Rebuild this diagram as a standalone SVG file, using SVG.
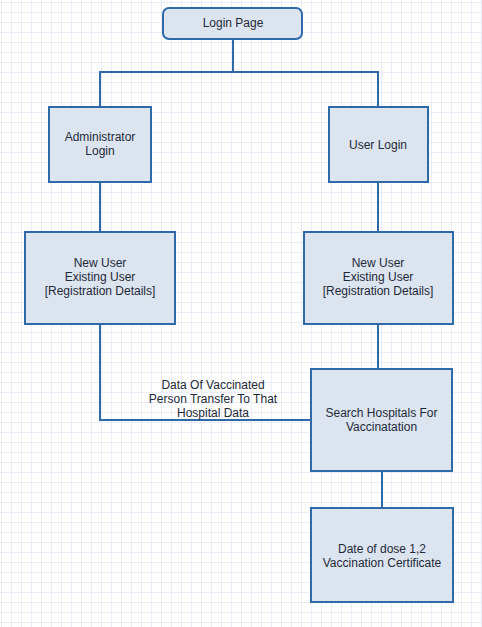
<svg xmlns="http://www.w3.org/2000/svg" width="482" height="627" viewBox="0 0 482 627">
<defs>
<pattern id="grid" width="10" height="10" patternUnits="userSpaceOnUse" x="1" y="2">
<path d="M0 0.5H10M0.5 0V10" fill="none" stroke="#ebebfa" stroke-width="1"/>
</pattern>
<style>
.box{fill:#dce4ef;stroke:#2e6aa8;stroke-width:2}
.conn{fill:none;stroke:#2e6aa8;stroke-width:2}
text{font-family:"Liberation Sans",Arial,sans-serif;font-size:12px;fill:#1e2a38;text-anchor:middle}
</style>
</defs>
<rect width="482" height="627" fill="#ffffff"/>
<rect width="482" height="627" fill="url(#grid)"/>
<g id="connectors">
<path class="conn" d="M233 39V72M100 107V72H378V107"/>
<path class="conn" d="M100 182V232"/>
<path class="conn" d="M378 182V232"/>
<path class="conn" d="M378 324V369"/>
<path class="conn" d="M100 324V420H311"/>
<path class="conn" d="M382 471V508"/>
<g id="edge-label">
<text x="213" y="388.5">Data Of Vaccinated</text>
<text x="213" y="402.5">Person Transfer To That</text>
<text x="213" y="417">Hospital Data</text>
</g>
</g>
<g id="login-page">
<rect class="box" x="163" y="8" width="139" height="31" rx="6"/>
<text x="233" y="27">Login Page</text>
</g>
<g id="admin-login">
<rect class="box" x="49" y="107" width="102" height="75"/>
<text x="100" y="141">Administrator</text>
<text x="100" y="155">Login</text>
</g>
<g id="user-login">
<rect class="box" x="329" y="107" width="99" height="75"/>
<text x="378" y="149">User Login</text>
</g>
<g id="admin-registration">
<rect class="box" x="25" y="232" width="150" height="92"/>
<text x="100" y="267">New User</text>
<text x="100" y="281">Existing User</text>
<text x="100" y="295">[Registration Details]</text>
</g>
<g id="user-registration">
<rect class="box" x="304" y="232" width="149" height="92"/>
<text x="378" y="267">New User</text>
<text x="378" y="281">Existing User</text>
<text x="378" y="295">[Registration Details]</text>
</g>
<g id="search-hospitals">
<rect class="box" x="311" y="369" width="141" height="102"/>
<text x="381.5" y="417">Search Hospitals For</text>
<text x="381.5" y="431">Vaccinatation</text>
</g>
<g id="dose-certificate">
<rect class="box" x="311" y="508" width="142" height="94"/>
<text x="382" y="553">Date of dose 1,2</text>
<text x="382" y="567">Vaccination Certificate</text>
</g>
</svg>
